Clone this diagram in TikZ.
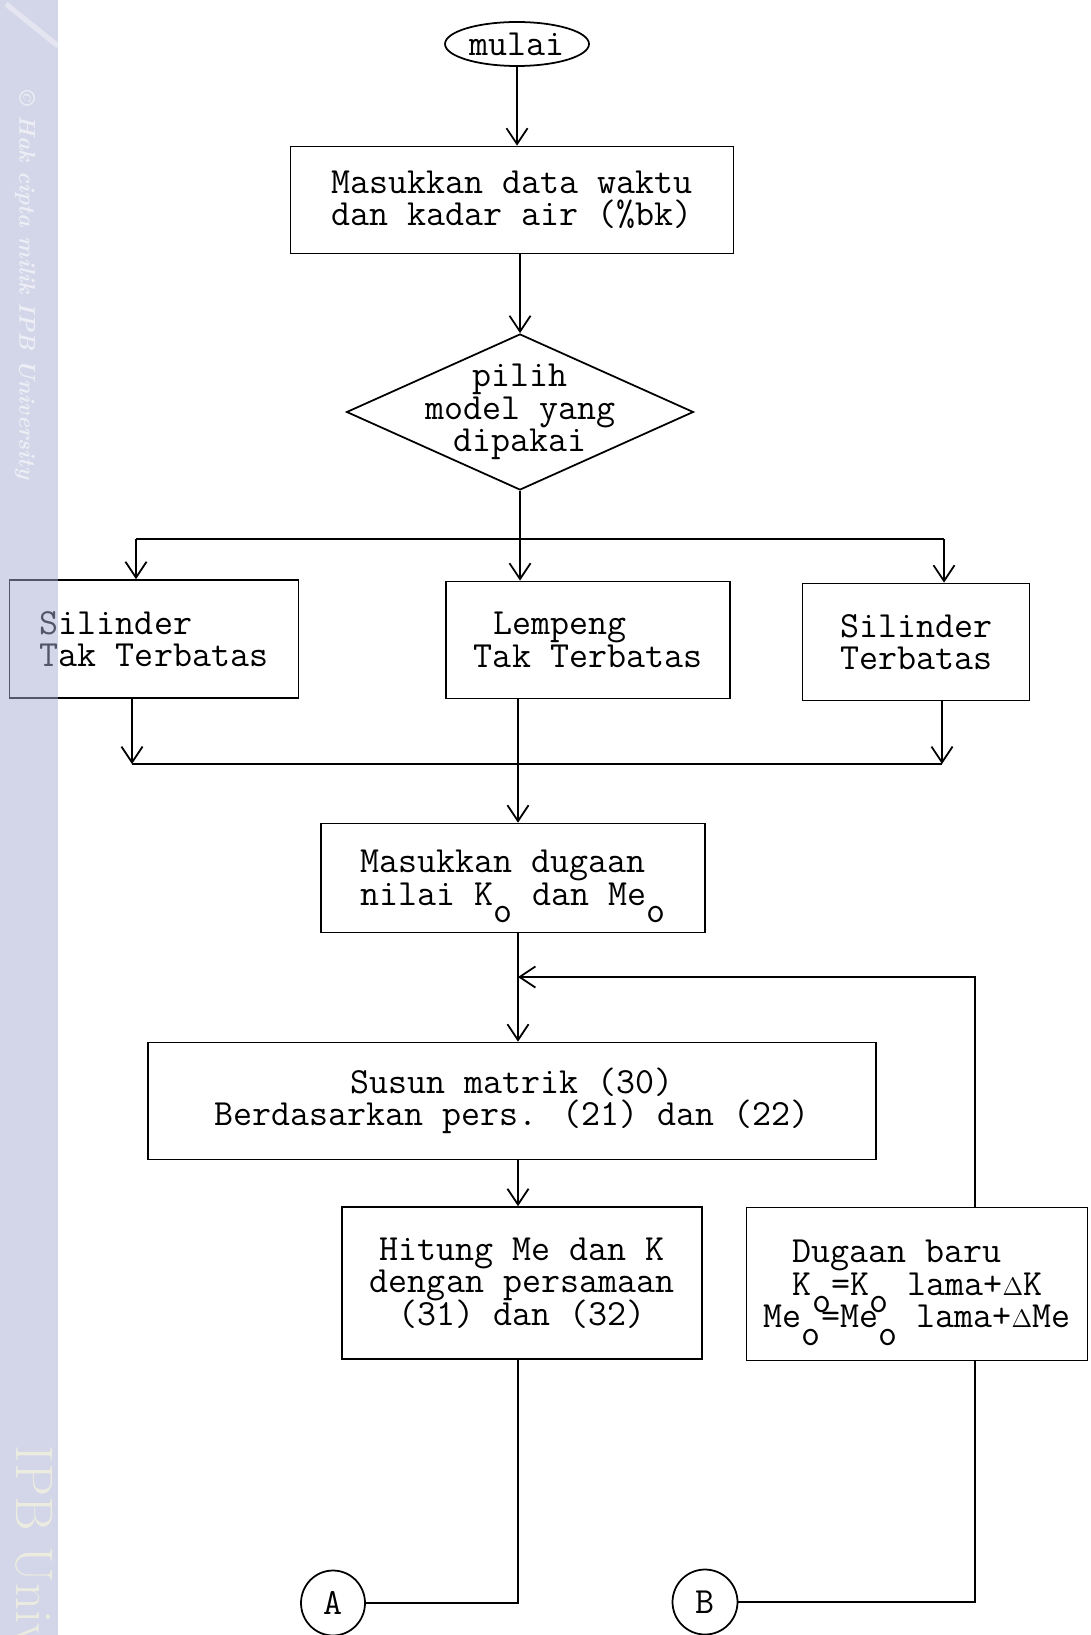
\documentclass[tikz,border=0pt]{standalone}
\usetikzlibrary{shapes.geometric, positioning, arrows.meta}

\definecolor{wmark}{RGB}{167,171,209}
\definecolor{wtext}{RGB}{242,243,222}
\newcommand{\flowfont}{\ttfamily\fontsize{21}{18.5}\selectfont\lineskiplimit=-\maxdimen}
\newcommand{\lowo}{\makebox[0.525em][c]{\raisebox{-10pt}[0pt][0pt]{o}}}
\newcommand{\dlt}{\ensuremath{\scriptstyle\Delta}}

\begin{document}
\begin{tikzpicture}[x=0.02cm, y=-0.02cm, font=\flowfont, line width=1pt,
                    >={Straight Barb[length=9pt,width=12pt]},
                    block/.style={rectangle, draw, inner sep=0pt, align=center},
                    terminal/.style={ellipse, draw, inner sep=0pt},
                    decision/.style={diamond, draw, inner sep=0pt}]
    \useasboundingbox (0,0) rectangle (1091,1635);
    \coordinate (col) at (518,0);
    \node (mulai)  [terminal, minimum width=2.88cm, minimum height=0.88cm] at (517,44) {mulai};
    \node (input)  [block, minimum width=8.86cm, minimum height=2.14cm] at (512,200)
                   {Masukkan data waktu\\dan kadar air (\%bk)};
    \node (pilih)  [decision, minimum width=6.94cm, minimum height=3.12cm,
                    label={[align=center]center:pilih\\model yang\\dipakai}] at (520,412) {};
    \node (silTak) [block, align=left, minimum width=5.78cm, minimum height=2.36cm] at (154,639)
                   {Silinder\\Tak Terbatas};
    \node (lemTak) [block, align=left, minimum width=5.68cm, minimum height=2.34cm] at (588,640)
                   {~Lempeng\\Tak Terbatas};
    \node (silTer) [block, minimum width=4.54cm, minimum height=2.34cm] at (916,642)
                   {Silinder\\Terbatas};
    \node (masuk)  [block, align=left, minimum width=7.68cm, minimum height=2.18cm] at (513,878)
                   {Masukkan dugaan\\nilai K\lowo~dan Me\lowo};
    \node (susun)  [block, minimum width=14.56cm, minimum height=2.34cm] at (512,1101)
                   {Susun matrik (30)\\Berdasarkan pers. (21) dan (22)};
    \node (hitung) [block, minimum width=7.2cm, minimum height=3.04cm] at (522,1283)
                   {Hitung Me dan K\\dengan persamaan\\(31) dan (32)};
    \node (baru)   [block, align=left, minimum width=6.82cm, minimum height=3.06cm] at (917,1284)
                   {\hspace*{0.79em}Dugaan baru\\\hspace*{0.79em}K\lowo=K\lowo~lama+\dlt K\\Me\lowo=Me\lowo~lama+\dlt Me};
    \node (A)      [terminal, minimum width=1.28cm, minimum height=1.3cm] at (333,1603) {A};
    \node (B)      [terminal, minimum width=1.3cm, minimum height=1.3cm] at (705,1602) {B};

    % choose the model
    \coordinate (forkL) at (136,539);
    \coordinate (forkR) at (944,539);
    \coordinate (joinL) at (132,764);
    \coordinate (joinR) at (942,764);
    \coordinate (back)  at (975,977);

    \path[->] (mulai) edge (mulai.south |- input.north)
              (input.south -| pilih) edge (pilih.north)
              (pilih.south) edge (pilih.south |- lemTak.north)
              (forkL) edge (forkL |- silTak.north)
              (forkR) edge (forkR |- silTer.north);
    \draw (forkL) -- (forkR);

    \path[->] (silTak.south -| joinL) edge (joinL)
              (silTer.south -| joinR) edge (joinR)
              (lemTak.south -| col) edge (masuk.north -| col);
    \draw (joinL) -- (joinR);

    \path[->] (masuk.south -| col) edge (susun.north -| col)
              (susun.south -| col) edge (hitung.north -| col);

    % iterate with new guesses
    \draw[->] (baru.north -| back) -- (back) -- (back -| col);
    \draw (hitung.south -| col) |- (A.east);
    \draw (B.east) -| (baru.south -| back);

    % watermark strip
    \fill[wmark, opacity=0.5] (0,0) rectangle (58,1635);
    \draw[white, opacity=0.4, line width=3pt] (6,4) -- (58,46);
    \node (hak) [rotate=-90, text=white, opacity=0.6,
                 font=\rmfamily\bfseries\itshape\fontsize{13}{15}\selectfont] at (25,285)
                {\textcopyright{} Hak cipta milik IPB University};
    \begin{scope}
        \clip (0,0) rectangle (58,1635);
        \node (ipb) [rotate=-90, anchor=west, text=wtext, opacity=0.8, inner sep=0pt,
                     font=\rmfamily\fontsize{30}{30}\selectfont] at (29,1445) {IPB University};
    \end{scope}
\end{tikzpicture}
\end{document}
